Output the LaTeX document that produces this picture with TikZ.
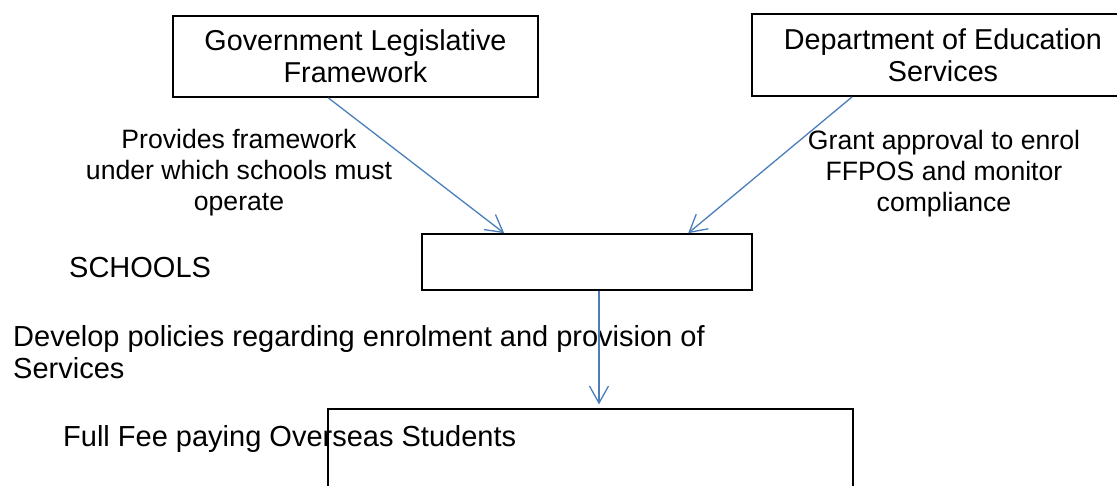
\documentclass[tikz,border=0pt]{standalone}
\usepackage{fontspec}
\setmainfont{Liberation Sans}
\usetikzlibrary{arrows.meta}
\definecolor{arrowblue}{RGB}{74,126,187}
\tikzset{
  boxnode/.style={draw=black, line width=1.6pt, rectangle, inner sep=0pt, align=center,
    font=\fontsize{28.75}{32}\selectfont},
  bigbox/.style={draw=black, line width=1.2pt, rectangle, inner sep=0pt},
  lbl/.style={inner sep=0pt, align=center, font=\fontsize{26.6}{31}\selectfont},
  plain/.style={inner sep=0pt, font=\fontsize{29}{32}\selectfont},
  arr/.style={draw=arrowblue, line width=1.3pt, -{Straight Barb[length=17pt,width=19pt,line width=1.3pt]}}
}
\begin{document}
\begin{tikzpicture}[x=1pt,y=-1pt]
\useasboundingbox (0,0) rectangle (1117,485);
% boxes
\node[boxnode, minimum width=365pt, minimum height=81pt] (b1) at (355.5,56.5) {Government Legislative\\Framework};
\node[boxnode, minimum width=382pt, minimum height=82pt] (b2) at (943,55) {Department of Education\\Services};
\node[boxnode, minimum width=330pt, minimum height=56pt] (b3) at (587,262) {};
\node[bigbox, minimum width=525pt, minimum height=120pt] (b4) at (590.5,469) {};
% labels
\node[lbl, anchor=north] (l1) at (239,129) {Provides framework\\under which schools must\\operate};
\node[lbl, anchor=north] (l2) at (944,130) {Grant approval to enrol\\FFPOS and monitor\\compliance};
\node[plain, anchor=base west] (sch) at (69,277) {SCHOOLS};
\node[plain, anchor=north west, align=left] (dev) at (13,325) {Develop policies regarding enrolment and provision of\\Services};
\node[plain, anchor=base west] (ffpos) at (63,446) {Full Fee paying Overseas Students};
% arrows
\draw[arr] ([xshift=156pt]b1.south west) -- ([xshift=83pt]b3.north west);
\draw[arr] ([xshift=101pt]b2.south west) -- ([xshift=267pt]b3.north west);
\draw[arr, shorten >=4pt] ([xshift=12pt]b3.south) -- ([xshift=12pt]b3.south |- b4.north);
\end{tikzpicture}
\end{document}
